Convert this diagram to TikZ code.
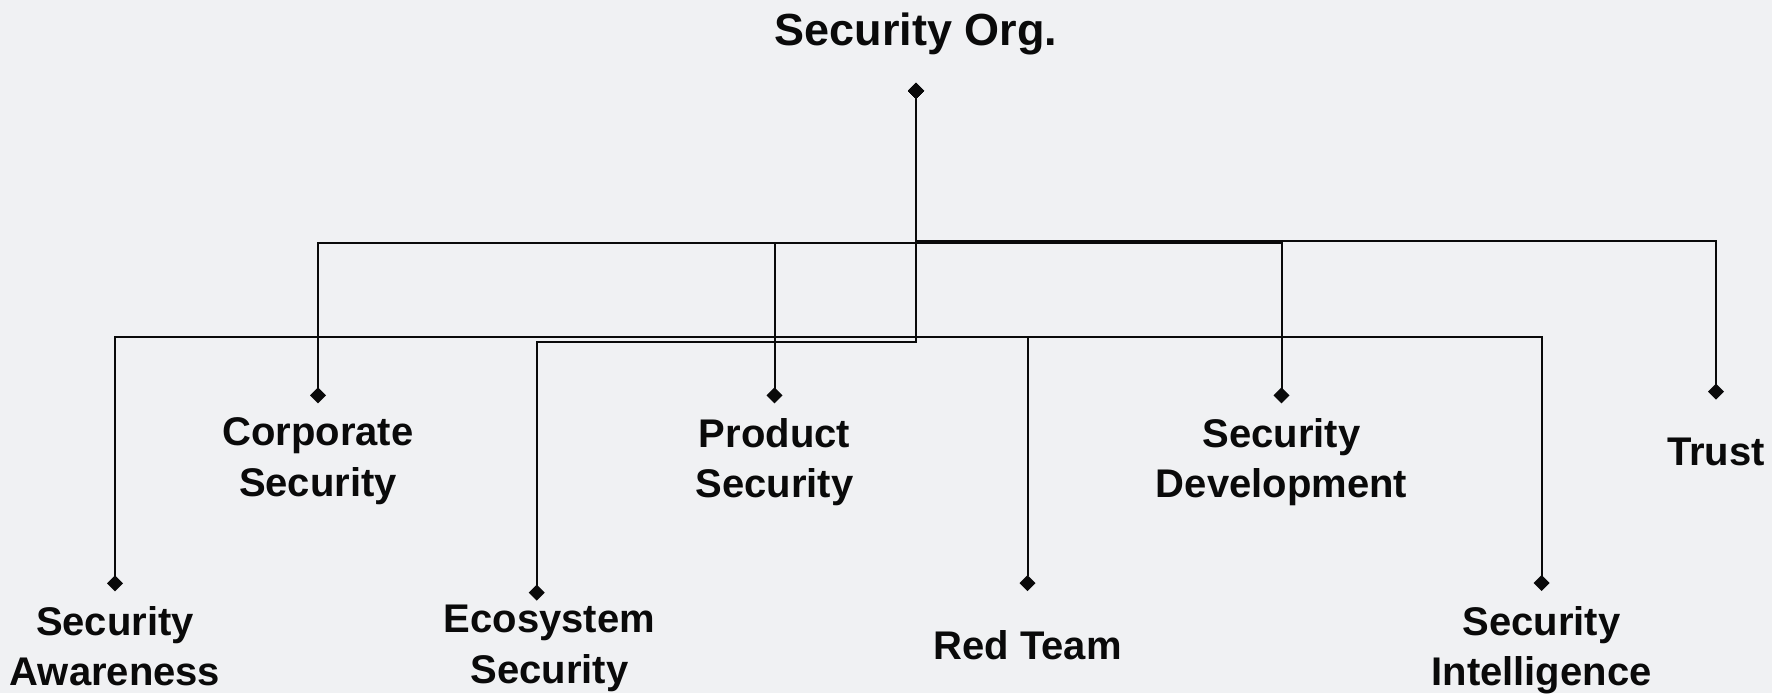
\documentclass[tikz,border=0pt]{standalone}
\usepackage{fontspec}
\setmainfont{Liberation Sans}
\usepackage{tikz}
\usetikzlibrary{arrows.meta}
\definecolor{fondo}{HTML}{F0F1F3}
\definecolor{tinta}{HTML}{0A0A0A}
% rama: nivel, nodo, xshift, yshift
\newcommand{\rama}[4]{\draw[link] (pin) -- (pin |- 0,#1) -| ([xshift=#3,yshift=#4]#2.north);}

\begin{document}
\begin{tikzpicture}[x=0.5pt,y=-0.5pt,
  unidad/.style={anchor=north,inner sep=0pt,outer sep=0pt,align=center,text=tinta,
    font=\bfseries\fontsize{20}{25.3}\selectfont},
  link/.style={draw=tinta,line width=1pt,
    {Diamond[length=8pt,width=8pt]}-{Diamond[length=8pt,width=8pt]}}]
  \useasboundingbox (0,0) rectangle (1772,693);
  \fill[fondo] (0,0) rectangle (1772,693);

  % raiz
  \node[unidad,font=\bfseries\fontsize{22.5}{27}\selectfont] (org) at (916,13) {Security Org.};
  \coordinate (pin) at ([yshift=-13.9pt]org.south);

  % fila de arriba
  \node[unidad] (corp) at (318,418) {Corporate\\Security};
  \node[unidad] (prod) at (774.5,418) {Product\\Security};
  \node[unidad] (secdev) at (1281.5,418) {Security\\Development};
  \node[unidad] (trust) at (1716,438) {Trust};

  % fila de abajo
  \node[unidad] (aware) at (115,606) {Security\\Awareness};
  \node[unidad] (eco) at (549.5,605) {Ecosystem\\Security};
  \node[unidad] (red) at (1027.5,630) {Red Team};
  \node[unidad] (intel) at (1541.5,606) {Security\\Intelligence};

  % ramas
  \rama{242.7}{corp}{0pt}{7.3pt}
  \rama{242.7}{prod}{0pt}{7.3pt}
  \rama{242.7}{secdev}{0pt}{7.3pt}
  \rama{241.3}{trust}{0pt}{19.2pt}
  \rama{336.7}{aware}{0pt}{7.3pt}
  \rama{341.7}{eco}{-6.4pt}{2.2pt}
  \rama{336.7}{red}{0pt}{19.5pt}
  \rama{336.7}{intel}{0pt}{7.5pt}
\end{tikzpicture}
\end{document}
